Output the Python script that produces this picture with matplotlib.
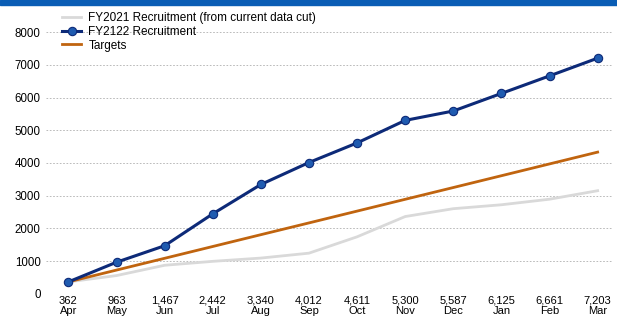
import matplotlib
matplotlib.use("Agg")
import matplotlib.pyplot as plt
from matplotlib.patches import Rectangle

# monthly recruitment figures
months = ["Apr", "May", "Jun", "Jul", "Aug", "Sep",
          "Oct", "Nov", "Dec", "Jan", "Feb", "Mar"]
fy2122 = [362, 963, 1467, 2442, 3340, 4012, 4611, 5300, 5587, 6125, 6661, 7203]
fy2021 = [362, 555, 870, 990, 1090, 1240, 1740, 2360, 2600, 2720, 2890, 3150]
targets = [362, 723, 1083, 1444, 1805, 2165, 2526, 2887, 3247, 3608, 3969, 4330]
y_ticks = [0, 1000, 2000, 3000, 4000, 5000, 6000, 7000, 8000]

plt.rcParams['font.family'] = ['Liberation Sans', 'DejaVu Sans']

fig = plt.figure(figsize=(6.17, 3.21), dpi=100)
ax = fig.add_axes([0.075, 0.085, 0.917, 0.815])

x = list(range(len(months)))

ax.plot(x, fy2021, color="#d9d9d9", linewidth=2.0,
        label="FY2021 Recruitment (from current data cut)", zorder=2)
ax.plot(x, fy2122, color="#0d2a78", linewidth=2.2, marker="o",
        markersize=6, markerfacecolor="#1f5bb0", markeredgecolor="#0d2a78",
        markeredgewidth=0.8, label="FY2122 Recruitment", zorder=4)
ax.plot(x, targets, color="#c0640f", linewidth=2.0, label="Targets", zorder=3)

ax.set_ylim(0, 8000)
ax.set_xlim(-0.46, 11.3)
ax.set_yticks(y_ticks)
ax.set_yticklabels([str(v) for v in y_ticks], fontsize=8.3)
ax.set_xticks(x)
ax.set_xticklabels([f"{v:,}\n{m}" for v, m in zip(fy2122, months)],
                   fontsize=8, linespacing=1.05)
ax.tick_params(axis="x", pad=1.5)
ax.tick_params(axis="y", pad=4)

ax.grid(axis="y", color="#b0b0b0", linestyle=(0, (2, 2)), linewidth=0.6)
ax.set_axisbelow(True)
for s in ax.spines.values():
    s.set_visible(False)
ax.tick_params(length=0)

ax.legend(loc="upper left", bbox_to_anchor=(0.02, 1.095), frameon=False,
          fontsize=8.5, handlelength=1.6, handletextpad=0.6,
          labelspacing=0.15, borderaxespad=0)

# header strip along the top edge
fig.patches.append(Rectangle((0, 0.985), 1, 0.015, transform=fig.transFigure,
                             color="#0a5db5", zorder=10))

fig.savefig("out.png", dpi=100)
